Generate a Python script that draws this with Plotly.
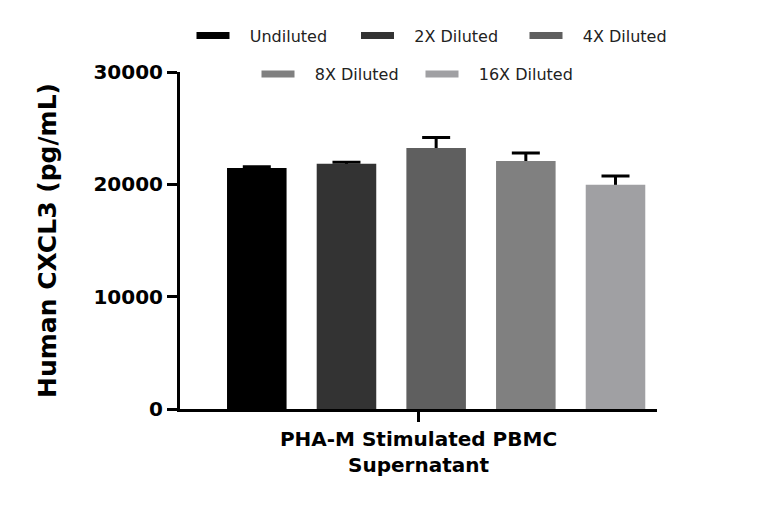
import plotly.graph_objects as go

group_label = "PHA-M Stimulated PBMC<br>Supernatant"
series = ["Undiluted", "2X Diluted", "4X Diluted", "8X Diluted", "16X Diluted"]
means = [21450, 21840, 23230, 22080, 19970]
errors = [110, 120, 950, 710, 770]
colors = ["#000000", "#333333", "#5f5f5f", "#808080", "#a0a0a3"]
y_ticks = [0, 10000, 20000, 30000]
y_title = "Human CXCL3 (pg/mL)"

FONT = "DejaVu Sans"
HIDE_BELOW = 300  # lower whisker kept inside the bar so only the upper whisker shows
PAD = "\u00a0\u00a0\u00a0"  # gap between legend swatch and its text

# legend entry anchors (container px): two centred rows, 3 + 2 items
legend_x_px = [183.5, 348, 516.5, 248.5, 412.5]
legend_y_px = [27.7, 27.7, 27.7, 66, 66]
legend_ids = ["legend", "legend2", "legend3", "legend4", "legend5"]

fig = go.Figure()

# invisible anchor trace so the visible category axis shows its label
fig.add_trace(go.Scatter(x=[group_label], y=[None], mode="markers",
                         showlegend=False, hoverinfo="skip", xaxis="x", yaxis="y"))

# error-bar carriers (transparent bars) on x2
for name, m, e in zip(series, means, errors):
    fig.add_trace(go.Bar(
        x=[group_label], y=[m], name=name, xaxis="x2", yaxis="y",
        marker=dict(color="rgba(0,0,0,0)", line=dict(width=0)),
        error_y=dict(type="data", array=[e], arrayminus=[HIDE_BELOW], symmetric=False,
                     color="#000000", thickness=3, width=14),
        showlegend=False, hoverinfo="skip",
    ))

# visible bars on x3, drawn above and hiding the lower whisker
for name, m, c in zip(series, means, colors):
    fig.add_trace(go.Bar(
        x=[group_label], y=[m], name=name, xaxis="x3", yaxis="y",
        marker=dict(color=c, line=dict(width=0)),
        showlegend=False,
    ))

for name, c, lid in zip(series, colors, legend_ids):
    fig.add_trace(go.Scatter(
        x=[None], y=[None], mode="lines", name=PAD + name,
        line=dict(color=c, width=7), legend=lid,
        xaxis="x", yaxis="y",
    ))

bar_axis = dict(
    type="category", categoryorder="array", categoryarray=[group_label],
    overlaying="x", range=[-0.537, 0.463], visible=False,
    showgrid=False, zeroline=False,
)

legend_common = dict(
    orientation="h", xanchor="left", yanchor="middle",
    xref="container", yref="container", itemwidth=33,
    font=dict(family=FONT, size=16, color="#222222"),
    bgcolor="rgba(0,0,0,0)", itemclick=False, itemdoubleclick=False,
)

legends = {
    lid: dict(legend_common, x=lx / 768, y=1 - ly / 508)
    for lid, lx, ly in zip(legend_ids, legend_x_px, legend_y_px)
}

fig.update_layout(
    width=768, height=508,
    margin=dict(l=172, r=119, t=64, b=107, autoexpand=False),
    paper_bgcolor="white", plot_bgcolor="white",
    barmode="group", bargap=0.06, bargroupgap=0.336,
    font=dict(family=FONT, color="#000000"),
    xaxis=dict(
        type="category", categoryorder="array", categoryarray=[group_label],
        range=[-0.5, 0.5], showline=True, linewidth=3, linecolor="#000000",
        ticks="outside", ticklen=10, tickwidth=3, tickcolor="#000000",
        tickfont=dict(family=FONT, size=20, weight="bold", color="#000000"),
        showgrid=False, zeroline=False, fixedrange=True,
    ),
    xaxis2=bar_axis,
    xaxis3=bar_axis,
    yaxis=dict(
        range=[0, 30000], tickvals=y_ticks, ticktext=[str(v) for v in y_ticks],
        showline=True, linewidth=3, linecolor="#000000",
        ticks="outside", ticklen=10, tickwidth=3, tickcolor="#000000",
        tickfont=dict(family=FONT, size=20, weight="bold", color="#000000"),
        showgrid=False, zeroline=False,
        title=dict(text=y_title, standoff=30,
                   font=dict(family=FONT, size=25, weight="bold", color="#000000")),
    ),
    **legends,
)

fig.write_html("out.html")
